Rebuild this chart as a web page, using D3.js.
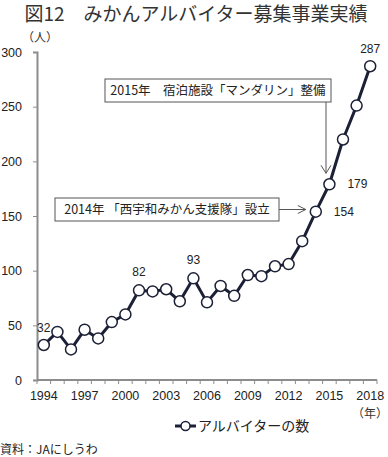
<!DOCTYPE html>
<html>
<head>
<meta charset="utf-8">
<script src="https://cdn.jsdelivr.net/npm/d3@7"></script>
<style>
  body { margin: 0; background: #fff; }
  svg { font-family: "Liberation Sans", Arial, "Noto Sans CJK JP", sans-serif; }
  .jp { font-family: "Noto Sans CJK JP", sans-serif; }
</style>
</head>
<body>
<svg id="chart" width="388" height="457"></svg>
<script>
const years = d3.range(1994, 2019);
const workers = [32, 44, 28, 46, 38, 53, 60, 82, 81, 83, 72, 93, 71, 86, 77, 96, 95, 104, 106, 127, 154, 179, 220, 251, 287];
const yTicks = [0, 50, 100, 150, 200, 250, 300];
const xLabelYears = [1994, 1997, 2000, 2003, 2006, 2009, 2012, 2015, 2018];
const labelled = [
  { year: 1994, dx: 0, dy: -13 },
  { year: 2001, dx: 0, dy: -14 },
  { year: 2005, dx: 0, dy: -14 },
  { year: 2014, dx: 18, dy: 4 },
  { year: 2015, dx: 18, dy: 4 },
  { year: 2018, dx: 0, dy: -13 }
];
const notes = [
  { text: "2015年　宿泊施設「マンダリン」整備", year: 2015, box: [105, 79, 331, 102], kind: "down", ax: 326 },
  { text: "2014年 「西宇和みかん支援隊」設立", year: 2014, box: [55, 198, 279, 221], kind: "right" }
];

const svg = d3.select("#chart");
const margin = { left: 37, right: 11, top: 52, bottom: 77 };
const W = 388, H = 457;
const navy = "#1b2036";
const axisGrey = "#8c8c8c";

const x = d3.scaleBand().domain(years).range([margin.left, W - margin.right]);
const y = d3.scaleLinear().domain([0, 300]).range([H - margin.bottom, margin.top]);
const cx = d => x(d) + x.bandwidth() / 2;

// title
svg.append("text").attr("class", "jp")
  .attr("x", 196).attr("y", 21).attr("text-anchor", "middle")
  .attr("font-size", 19).attr("fill", "#333")
  .text("図12　みかんアルバイター募集事業実績");

// unit
svg.append("text").attr("class", "jp")
  .attr("x", 40).attr("y", 42).attr("text-anchor", "middle")
  .attr("font-size", 12).attr("fill", "#333").text("（人）");

// y axis
const yAxis = svg.append("g")
  .attr("transform", `translate(${margin.left},0)`)
  .call(d3.axisLeft(y).tickValues(yTicks).tickSize(4).tickPadding(11));
yAxis.select(".domain").attr("stroke", axisGrey).attr("stroke-width", 2);
yAxis.selectAll(".tick line").attr("stroke", axisGrey);
yAxis.selectAll(".tick text").attr("font-size", 12.5).attr("fill", "#222")
  .attr("font-family", "Liberation Sans, Arial, sans-serif");

// x axis: ticks on category boundaries
const xAxisG = svg.append("g").attr("transform", `translate(0,${y(0)})`);
xAxisG.append("line")
  .attr("x1", margin.left).attr("x2", W - margin.right)
  .attr("stroke", axisGrey).attr("stroke-width", 2);
xAxisG.selectAll("line.tk")
  .data(years.concat([2019]))
  .join("line").attr("class", "tk")
  .attr("x1", d => d === 2019 ? W - margin.right : x(d))
  .attr("x2", d => d === 2019 ? W - margin.right : x(d))
  .attr("y1", 0).attr("y2", 4)
  .attr("stroke", axisGrey).attr("stroke-width", 1);
xAxisG.selectAll("text")
  .data(xLabelYears)
  .join("text")
  .attr("x", d => cx(d)).attr("y", 20)
  .attr("text-anchor", "middle").attr("font-size", 12.5).attr("fill", "#222")
  .text(d => d);
svg.append("text").attr("class", "jp")
  .attr("x", 388).attr("y", 418).attr("text-anchor", "end")
  .attr("font-size", 12).attr("fill", "#333").text("（年）");

// annotations
notes.forEach(n => {
  const [x0, y0, x1, y1] = n.box;
  svg.append("rect").attr("x", x0).attr("y", y0)
    .attr("width", x1 - x0).attr("height", y1 - y0)
    .attr("fill", "#fff").attr("stroke", "#555").attr("stroke-width", 1);
  svg.append("text").attr("class", "jp")
    .attr("x", (x0 + x1) / 2).attr("y", (y0 + y1) / 2 + 4.5)
    .attr("text-anchor", "middle").attr("font-size", 12.5).attr("fill", "#222")
    .text(n.text);
  const px = cx(n.year), py = y(workers[years.indexOf(n.year)]);
  let pts, head;
  if (n.kind === "down") {
    const ty = py - 11;
    pts = [[n.ax, y1], [n.ax, ty]];
    head = [[n.ax - 5, ty - 8], [n.ax, ty], [n.ax + 5, ty - 8]];
  } else {
    const ay = (y0 + y1) / 2, tx = px - 10;
    pts = [[x1, ay], [tx, ay]];
    head = [[tx - 8, ay - 4], [tx, ay], [tx - 8, ay + 4]];
  }
  svg.append("path").attr("d", d3.line()(pts)).attr("stroke", "#555").attr("fill", "none");
  svg.append("path").attr("d", d3.line()(head)).attr("stroke", "#555").attr("fill", "none");
});

// series
const line = d3.line().x((d, i) => cx(years[i])).y(d => y(d));
svg.append("path").datum(workers)
  .attr("d", line).attr("fill", "none")
  .attr("stroke", navy).attr("stroke-width", 3).attr("stroke-linejoin", "round");
svg.selectAll("circle.pt")
  .data(workers)
  .join("circle").attr("class", "pt")
  .attr("cx", (d, i) => cx(years[i])).attr("cy", d => y(d))
  .attr("r", 5.5).attr("fill", "#fff").attr("stroke", navy).attr("stroke-width", 1.5);

// data labels
svg.selectAll("text.val")
  .data(labelled)
  .join("text").attr("class", "val")
  .attr("x", d => cx(d.year) + d.dx)
  .attr("y", d => y(workers[years.indexOf(d.year)]) + d.dy)
  .attr("text-anchor", d => d.dx > 0 ? "start" : "middle")
  .attr("font-size", 12).attr("fill", "#222")
  .text(d => workers[years.indexOf(d.year)]);

// legend
svg.append("line").attr("x1", 175).attr("x2", 196).attr("y1", 426).attr("y2", 426)
  .attr("stroke", navy).attr("stroke-width", 3);
svg.append("circle").attr("cx", 185.5).attr("cy", 426).attr("r", 4.5)
  .attr("fill", "#fff").attr("stroke", navy).attr("stroke-width", 1.5);
svg.append("text").attr("class", "jp")
  .attr("x", 198).attr("y", 431).attr("font-size", 14).attr("fill", "#222")
  .text("アルバイターの数");

// source
svg.append("text").attr("class", "jp")
  .attr("x", 0).attr("y", 454).attr("font-size", 12).attr("fill", "#222")
  .text("資料：JAにしうわ");
</script>
</body>
</html>
